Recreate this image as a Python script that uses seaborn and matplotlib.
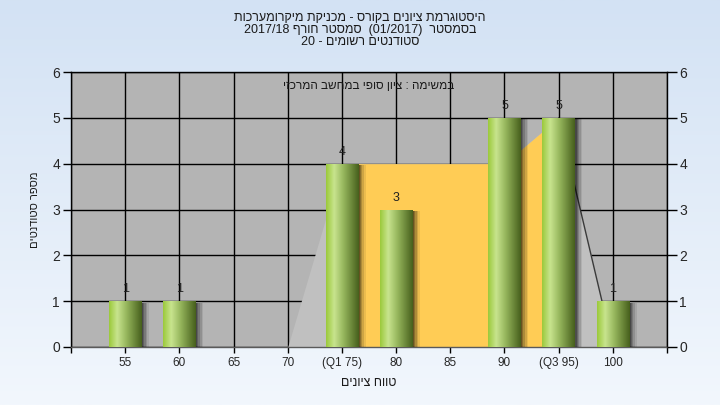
import numpy as np
import matplotlib
matplotlib.use("Agg")
import matplotlib.pyplot as plt
from matplotlib.colors import LinearSegmentedColormap
from matplotlib.patches import Rectangle
import seaborn as sns

# ---- data ----
grade_labels = ["55", "60", "65", "70", "(Q1 75)", "80", "85", "90", "(Q3 95)", "100"]
grade_values = [55, 60, 65, 70, 75, 80, 85, 90, 95, 100]
student_counts = [1, 1, 0, 0, 4, 3, 0, 5, 5, 1]
q1_grade, q3_grade = 75, 95
curve_grades = [70, 75, 90, 95, 100]
curve_counts = [0, 4, 4, 5, 0]
y_ticks = [0, 1, 2, 3, 4, 5, 6]

# visual (left-to-right) forms of the right-to-left Hebrew texts
title_lines = [
    "תוכרעמורקימ תקינכמ - סרוקב םינויצ תמרגוטסיה",
    "2017/18 ףרוח רטסמס  (01/2017)  רטסמסב",
    "20 - םימושר םיטנדוטס",
]
subtitle = "יזכרמה בשחמב יפוס ןויצ : המישמב"
x_label = "םינויצ חווט"
y_label = "םיטנדוטס רפסמ"

sns.set_theme(style="white")
FONTS = ["Liberation Sans", "DejaVu Sans"]
plt.rcParams["font.family"] = FONTS

fig = plt.figure(figsize=(7.2, 4.05), dpi=100)

# figure background gradient
bg = fig.add_axes([0, 0, 1, 1], zorder=-10)
bg_cmap = LinearSegmentedColormap.from_list("bg", ["#d3e2f4", "#f2f7fd"])
bg.imshow(np.linspace(0, 1, 256)[:, None], cmap=bg_cmap, aspect="auto", extent=[0, 1, 0, 1])
bg.set_axis_off()

ax = fig.add_axes([71 / 720, 1 - 347 / 405, (667 - 71) / 720, (347 - 72) / 405])
ax.set_facecolor("#b4b4b4")

sns.barplot(x=grade_labels, y=student_counts, order=grade_labels, color="#6f8c3a",
            width=0.6, ax=ax, zorder=5, saturation=1, linewidth=0, edgecolor="none")

def to_pos(g):
    return (np.asarray(g, dtype=float) - grade_values[0]) / (grade_values[1] - grade_values[0])

# background distribution area
cx = to_pos(curve_grades)
cy = np.asarray(curve_counts, dtype=float)
ax.fill_between(cx, cy, 0, color="#c0c0c0", lw=0, zorder=2)
mask = (cx >= to_pos(q1_grade)) & (cx <= to_pos(q3_grade))
ax.fill_between(cx, cy, 0, where=mask, color="#ffcc55", lw=0, zorder=2.5, interpolate=False)
ax.plot(cx[3:], cy[3:], color="#3a3a3a", lw=1.0, zorder=3)

# bar gradient + shadow
bar_cmap = LinearSegmentedColormap.from_list(
    "bar", [(0.0, "#9bc93a"), (0.25, "#c8e48e"), (0.55, "#93b35a"), (1.0, "#465f1c")])
grad = np.linspace(0, 1, 256)[None, :]
for p in list(ax.patches):
    h = p.get_height()
    p.set_linewidth(0)
    p.set_edgecolor("none")
    p.set_facecolor("#4f6a22")
    if h <= 0:
        continue
    x0, y0, w = p.get_x(), p.get_y(), p.get_width()
    for k, a in zip([0.14, 0.11, 0.08, 0.05, 0.03], [0.08, 0.12, 0.16, 0.2, 0.25]):
        ax.add_patch(Rectangle((x0 + k, y0), w, h - 0.03, facecolor="black",
                               edgecolor="none", alpha=a, zorder=4))
    im = ax.imshow(grad, cmap=bar_cmap, aspect="auto",
                   extent=[x0, x0 + w, y0, y0 + h], zorder=5.5, interpolation="bilinear")
    im.set_clip_path(p)
    ax.text(x0 + w / 2, h + 0.26, str(int(h)), ha="center", va="center",
            fontsize=9, color="#202020", zorder=7)

ax.set_xlim(-1, len(grade_labels))
ax.set_ylim(0, 6)
ax.set_xticks(range(-1, len(grade_labels) + 1))
ax.set_xticklabels([""] + grade_labels + [""], fontsize=8.5)
ax.set_yticks(y_ticks)
ax.set_yticklabels([str(t) for t in y_ticks], fontsize=10)
ax.grid(True, color="black", lw=1.0, zorder=1)
ax.set_axisbelow(True)
ax.tick_params(axis="x", length=4, width=1, color="black", pad=3, bottom=True)
ax.tick_params(axis="y", length=6, width=1, color="black", pad=2, left=True)
for s in ["left", "right", "top"]:
    ax.spines[s].set_color("black")
    ax.spines[s].set_linewidth(1.0)
ax.spines["bottom"].set_color("#5a5a5a")
ax.spines["bottom"].set_linewidth(1.0)
ax.set_xlabel(x_label, fontsize=9, labelpad=6, color="#1a1a1a")
ax.set_ylabel(y_label, fontsize=8, labelpad=9, color="#1a1a1a")

ax2 = ax.twinx()
ax2.set_ylim(0, 6)
ax2.set_yticks(y_ticks)
ax2.set_yticklabels([str(t) for t in y_ticks], fontsize=10)
ax2.tick_params(axis="y", length=7, width=1, color="black", pad=2, right=True)
for s in ax2.spines.values():
    s.set_visible(False)

ax.text(0.5, 0.949, subtitle, transform=ax.transAxes, ha="center", va="center",
        fontsize=8.5, color="#1a1a1a", zorder=8)

for i, line in enumerate(title_lines):
    fig.text(0.5, 1 - (18 + 12 * i) / 405, line, ha="center", va="center",
             fontsize=9, color="#1a1a1a")

fig.savefig("out.png", dpi=100)
